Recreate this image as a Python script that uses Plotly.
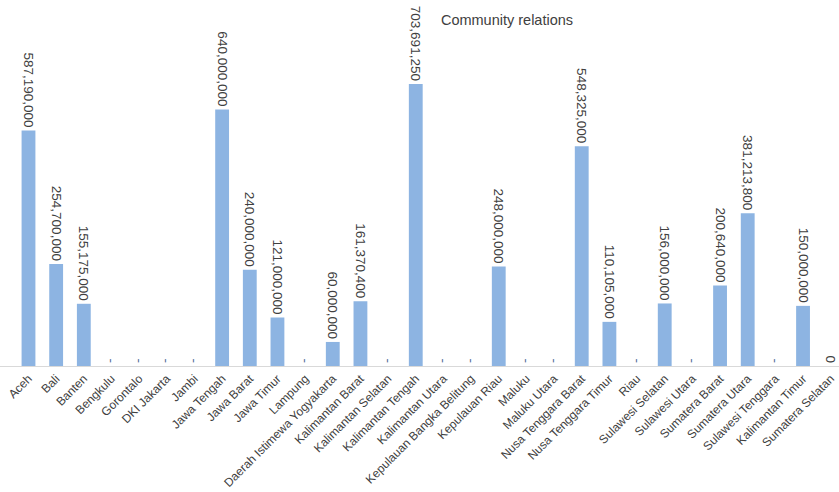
import plotly.graph_objects as go

provinces = [
    "Aceh", "Bali", "Banten", "Bengkulu", "Gorontalo", "DKI Jakarta", "Jambi",
    "Jawa Tengah", "Jawa Barat", "Jawa Timur", "Lampung",
    "Daerah Istimewa Yogyakarta", "Kalimantan Barat", "Kalimantan Selatan",
    "Kalimantan Tengah", "Kalimantan Utara", "Kepulauan Bangka Belitung",
    "Kepulauan Riau", "Maluku", "Maluku Utara", "Nusa Tenggara Barat",
    "Nusa Tenggara Timur", "Riau", "Sulawesi Selatan", "Sulawesi Utara",
    "Sumatera Barat", "Sumatera Utara", "Sulawesi Tenggara",
    "Kalimantan Timur", "Sumatera Selatan",
]

spending = [
    587190000, 254700000, 155175000, 0, 0, 0, 0,
    640000000, 240000000, 121000000, 0,
    60000000, 161370400, 0,
    703691250, 0, 0,
    248000000, 0, 0, 548325000,
    110105000, 0, 156000000, 0,
    200640000, 381213800, 0,
    150000000, 0,
]

# zero entries are shown with the accounting dash, except a plain "0" cell
plain_zero = ["Sumatera Selatan"]

FONT = "Liberation Sans, Arial, sans-serif"
TEXT = "#404040"
DASH = "#4A6896"

labels, label_colors = [], []
for name, v in zip(provinces, spending):
    if v:
        labels.append(f"{v:,}")
        label_colors.append(TEXT)
    elif name in plain_zero:
        labels.append("0")
        label_colors.append(TEXT)
    else:
        labels.append("-")
        label_colors.append(DASH)

fig = go.Figure(
    go.Bar(
        x=provinces,
        y=spending,
        text=labels,
        textposition="outside",
        textangle=90,
        constraintext="none",
        cliponaxis=False,
        textfont=dict(family=FONT, size=13.5, color=label_colors),
        marker=dict(color="#8DB4E2", line=dict(width=0)),
        hoverinfo="x+y",
    )
)

fig.update_layout(
    width=839,
    height=492,
    margin=dict(l=0, r=0, t=0, b=126),
    paper_bgcolor="white",
    plot_bgcolor="white",
    bargap=0.5,
    showlegend=False,
    font=dict(family=FONT, color=TEXT),
    title=dict(
        text="Community relations",
        x=507 / 839,
        xanchor="center",
        y=1 - 20 / 492,
        yanchor="middle",
        font=dict(family=FONT, size=14.5, color=TEXT),
    ),
    xaxis=dict(
        type="category",
        range=[-1.03, 29.3],
        automargin=False,
        tickangle=-45,
        tickfont=dict(family=FONT, size=12, color=TEXT),
        showline=True,
        linecolor="#D9D9D9",
        linewidth=1,
        ticks="",
        showgrid=False,
        zeroline=False,
    ),
    yaxis=dict(
        range=[0, 913e6],
        visible=False,
        automargin=False,
        showgrid=False,
        zeroline=False,
    ),
)

fig.write_html("out.html")
